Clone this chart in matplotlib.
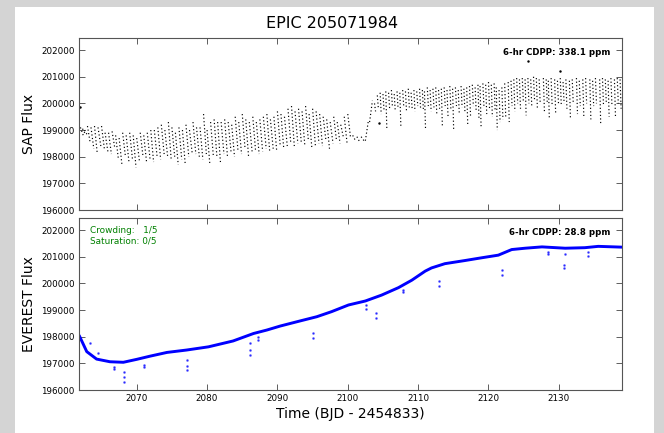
import numpy as np
import matplotlib.pyplot as plt
from matplotlib.patches import Rectangle

# SAP flux: each K2 roll segment shows up as a slanted streak of cadences
# left part (before the jump): start time, flux at start, flux at end
sap_left_t = [2062.0, 2062.3, 2062.6, 2063.0, 2063.5, 2064.0, 2064.5, 2065.0, 2065.5, 2066.0,
              2066.5, 2067.0, 2067.5, 2068.0, 2068.5, 2069.0, 2069.5, 2070.0, 2070.5, 2071.0,
              2071.5, 2072.0, 2072.5, 2073.0, 2073.5, 2074.0, 2074.5, 2075.0, 2075.5, 2076.0,
              2076.5, 2077.0, 2077.5, 2078.0, 2078.5, 2079.0, 2079.5, 2080.0, 2080.5, 2081.0,
              2081.5, 2082.0, 2082.5, 2083.0, 2083.5, 2084.0, 2084.5, 2085.0, 2085.5, 2086.0,
              2086.5, 2087.0, 2087.5, 2088.0, 2088.5, 2089.0, 2089.5, 2090.0, 2090.5, 2091.0,
              2091.5, 2092.0, 2092.5, 2093.0, 2093.5, 2094.0, 2094.5, 2095.0, 2095.5, 2096.0,
              2096.5, 2097.0, 2097.5, 2098.0, 2098.5, 2099.0, 2099.5, 2100.0, 2100.7, 2101.3,
              2101.9, 2102.5, 2103.1]
sap_left_f0 = [199100, 199050, 199000, 199150, 199100, 199150, 199100, 199150, 198900, 198900,
               198950, 198800, 198700, 198900, 198800, 198900, 198800, 198700, 198900, 198800,
               198900, 199000, 199000, 199100, 199200, 199000, 199300, 199100, 198900, 199100,
               199000, 199200, 199000, 199300, 199100, 199100, 199600, 199000, 199300, 199400,
               199300, 199300, 199400, 199300, 199200, 199500, 199300, 199600, 199400, 199300,
               199500, 199300, 199400, 199500, 199600, 199400, 199500, 199700, 199600, 199500,
               199800, 199900, 199700, 199800, 199700, 199900, 199600, 199800, 199700, 199600,
               199500, 199400, 199300, 199500, 199300, 199200, 199500, 199600, 198800, 198750,
               198750, 198600, 199300]
sap_left_f1 = [198800, 198850, 198800, 198500, 198300, 198100, 198400, 198300, 198200, 198100,
               198300, 197900, 197700, 198000, 197800, 197900, 197600, 197800, 198000, 197800,
               197900, 197800, 198000, 197900, 198100, 198000, 197900, 198000, 197700, 197900,
               197700, 198000, 198100, 198100, 198000, 197900, 198100, 197700, 198000, 198000,
               197800, 198100, 198000, 198200, 198000, 198200, 198100, 198300, 198000, 198200,
               198200, 198100, 198200, 198300, 198200, 198300, 198200, 198400, 198300, 198400,
               198500, 198400, 198500, 198500, 198400, 198600, 198300, 198400, 198500, 198400,
               198600, 198300, 198500, 198600, 198500, 198700, 198500, 198700, 198600, 198550,
               198600, 199300, 200100]

# right part (after the jump)
sap_right_t = [2103.8, 2104.2, 2104.6, 2105.0, 2105.4, 2105.8, 2106.2, 2106.6, 2107.0, 2107.4,
               2107.8, 2108.2, 2108.6, 2109.0, 2109.4, 2109.8, 2110.2, 2110.6, 2110.9, 2111.3,
               2111.7, 2112.1, 2112.5, 2112.9, 2113.3, 2113.7, 2114.1, 2114.5, 2114.9, 2115.3,
               2115.7, 2116.1, 2116.5, 2116.9, 2117.3, 2117.7, 2118.1, 2118.5, 2118.8, 2119.2,
               2119.6, 2120.0, 2120.4, 2120.8, 2121.1, 2121.5, 2121.9, 2122.3, 2122.8, 2123.2,
               2123.6, 2124.0, 2124.4, 2124.8, 2125.2, 2125.6, 2126.0, 2126.4, 2126.8, 2127.2,
               2127.8, 2128.2, 2128.5, 2128.9, 2129.4, 2129.8, 2130.2, 2130.6, 2131.0, 2131.5,
               2131.9, 2132.5, 2132.9, 2133.4, 2133.8, 2134.4, 2134.8, 2135.2, 2135.8, 2136.2,
               2136.6, 2137.0, 2137.4, 2137.9, 2138.3, 2138.7]
sap_right_f0 = [200000, 200300, 200400, 200350, 200450, 200400, 200500, 200350, 200450, 200400,
                200500, 200450, 200550, 200400, 200500, 200450, 200550, 200500, 200450, 200600,
                200500, 200550, 200600, 200500, 200550, 200600, 200500, 200650, 200550, 200600,
                200500, 200650, 200550, 200600, 200650, 200700, 200600, 200700, 200650, 200750,
                200700, 200800, 200700, 200750, 200600, 200500, 200600, 200750, 200800, 200850,
                200900, 200950, 200900, 200950, 200900, 200950, 200900, 201000, 200950, 200900,
                200950, 200900, 200850, 200950, 200900, 200850, 200950, 200800, 200900, 200850,
                200900, 200950, 200850, 200900, 200950, 200900, 200850, 200950, 200900, 200950,
                200900, 200850, 200950, 200900, 200950, 200900]
sap_right_f1 = [199700, 199800, 199600, 199750, 199050, 199800, 199850, 199700, 199800, 199100,
                199900, 199700, 199850, 199800, 199700, 199900, 199800, 199750, 199050, 199900,
                199700, 199850, 199600, 199800, 199100, 199900, 199500, 199800, 199000, 199900,
                199600, 199850, 199700, 199200, 199500, 199900, 199700, 199400, 199100, 199900,
                199600, 199800, 199500, 199700, 199000, 199300, 199400, 199500, 199300, 199900,
                199700, 200000, 199800, 200100, 199550, 200000, 199900, 200100, 199800, 200000,
                199700, 200050, 199400, 199900, 199600, 200000, 199900, 200000, 199800, 199400,
                200000, 199600, 199900, 199500, 200000, 199400, 199900, 200000, 199200, 199900,
                200000, 199500, 199900, 199500, 200000, 199800]

sap_out_t = [2061.9, 2104.5, 2125.6, 2130.1]
sap_out_f = [199870, 199250, 201590, 201210]

# EVEREST detrended flux: smooth trend
ev_t = [2061.8, 2062.9, 2064.3, 2066.2, 2068.1, 2070.0, 2071.9, 2074.3, 2077.1, 2080.2,
        2083.7, 2086.6, 2088.5, 2090.4, 2093.2, 2095.6, 2097.7, 2100.1, 2102.5, 2104.8,
        2107.2, 2109.1, 2111.0, 2111.9, 2113.8, 2116.7, 2119.0, 2121.4, 2123.3, 2125.2,
        2127.6, 2130.9, 2133.7, 2135.6, 2139.0]
ev_f = [198060, 197440, 197160, 197060, 197040, 197150, 197270, 197410, 197500, 197620,
        197840, 198120, 198250, 198400, 198590, 198750, 198940, 199190, 199340, 199560,
        199840, 200120, 200460, 200580, 200740, 200860, 200960, 201060, 201270, 201320,
        201370, 201320, 201340, 201390, 201360]

# cadences falling below the trend
ev_out_t = [2063.3, 2064.5, 2066.8, 2066.8, 2068.2, 2068.2, 2068.2, 2071.1, 2071.1, 2077.2,
            2077.2, 2077.2, 2086.1, 2086.1, 2086.1, 2087.3, 2087.3, 2095.1, 2095.1, 2102.6,
            2102.6, 2104.0, 2104.0, 2107.8, 2107.8, 2113.0, 2113.0, 2121.9, 2121.9, 2128.5,
            2128.5, 2130.8, 2130.8, 2130.9, 2134.1, 2134.1]
ev_out_f = [197760, 197390, 196870, 196800, 196690, 196480, 196310, 196940, 196870, 197120,
            196900, 196750, 197760, 197500, 197310, 198000, 197870, 198140, 197950, 199190,
            199040, 198890, 198710, 199750, 199660, 200090, 199900, 200500, 200310, 201190,
            201090, 200690, 200560, 201100, 201190, 201040]

fig = plt.figure(figsize=(6.64, 4.33), dpi=100)
fig.patch.set_facecolor("#d4d4d4")
fig.add_artist(Rectangle((0.0226, 0.0), 0.9624, 0.984, transform=fig.transFigure,
                         facecolor="white", edgecolor="none", zorder=-1))

ax1 = fig.add_axes([0.119, 0.515, 0.818, 0.397])
ax2 = fig.add_axes([0.119, 0.0993, 0.818, 0.397])

dots = (0, (1, 2.0))
for t, f0, f1 in zip(sap_left_t, sap_left_f0, sap_left_f1):
    ax1.plot([t, t + 0.4], [f0, f1], color="k", lw=0.85, ls=dots)
for t, f0, f1 in zip(sap_right_t, sap_right_f0, sap_right_f1):
    ax1.plot([t, t + 0.15], [f0, f1], color="k", lw=0.85, ls=dots)
ax1.plot(sap_out_t, sap_out_f, "k.", ms=1.5)

ax2.plot(ev_t, ev_f, color="#0000ff", lw=2.1, solid_capstyle="butt")
ax2.plot(ev_out_t, ev_out_f, ".", color="#0000ff", ms=1.8, alpha=0.6)

yticks = [196000, 197000, 198000, 199000, 200000, 201000, 202000]
xticks = [2070, 2080, 2090, 2100, 2110, 2120, 2130]
for ax in (ax1, ax2):
    ax.set_xlim(2061.8, 2139.0)
    ax.set_ylim(196000, 202450)
    ax.set_yticks(yticks)
    ax.set_xticks(xticks)
    ax.tick_params(direction="in", length=4, width=0.6, labelsize=6.3, pad=3,
                   top=True, right=True, color="#444444")
    for s in ax.spines.values():
        s.set_color("#555555")
        s.set_linewidth(0.8)
ax1.tick_params(labelbottom=False)

ax1.set_ylabel("SAP Flux", fontsize=10)
ax2.set_ylabel("EVEREST Flux", fontsize=10)
ax2.set_xlabel("Time (BJD - 2454833)", fontsize=10, labelpad=3)
fig.suptitle("EPIC 205071984", fontsize=11.5, y=0.962)

ax1.text(0.978, 0.919, "6-hr CDPP: 338.1 ppm", transform=ax1.transAxes,
         ha="right", va="center", fontsize=6.2, fontweight="bold")
ax2.text(0.978, 0.919, "6-hr CDPP: 28.8 ppm", transform=ax2.transAxes,
         ha="right", va="center", fontsize=6.2, fontweight="bold")
ax2.text(0.02, 0.955, "Crowding:   1/5\nSaturation: 0/5", transform=ax2.transAxes,
         ha="left", va="top", fontsize=6.4, color="#008000", linespacing=1.3)

fig.savefig("out.png", dpi=100, facecolor=fig.get_facecolor())
